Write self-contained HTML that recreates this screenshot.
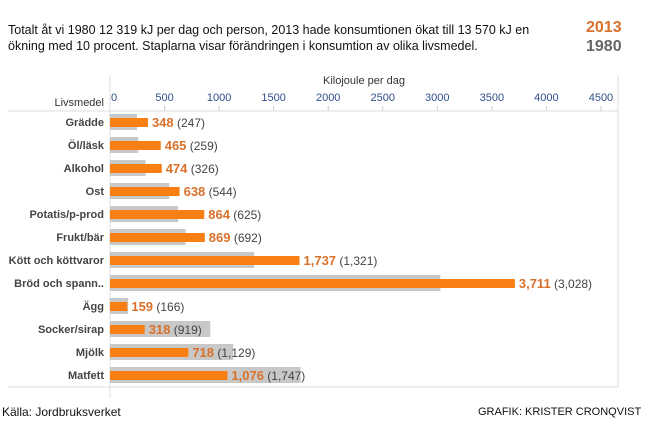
<!DOCTYPE html>
<html><head><meta charset="utf-8"><style>
body{margin:0;width:646px;height:431px;background:#fff;font-family:"Liberation Sans",Arial,sans-serif;overflow:hidden;position:relative}
.t{position:absolute;white-space:nowrap}
</style></head><body>
<div class="t" style="left:8px;top:22px;font-size:12.5px;line-height:16px;color:#111">Totalt åt vi 1980 12 319 kJ per dag och person, 2013 hade konsumtionen ökat till 13 570 kJ en<br>ökning med 10 procent. Staplarna visar förändringen i konsumtion av olika livsmedel.</div>
<div class="t" style="left:586px;top:19px;font-size:16px;font-weight:bold;color:#d9712a">2013</div>
<div class="t" style="left:586px;top:38px;font-size:16px;font-weight:bold;color:#666">1980</div>
<svg id="c" width="646" height="431" style="position:absolute;left:0;top:0"></svg>
<div class="t" style="left:2px;top:405px;font-size:12px;color:#111">Källa: Jordbruksverket</div>
<div class="t" style="left:478px;top:406px;font-size:11px;color:#111">GRAFIK: KRISTER CRONQVIST</div>
<script>
const categories=["Grädde","Öl/läsk","Alkohol","Ost","Potatis/p-prod","Frukt/bär","Kött och köttvaror","Bröd och spann..","Ägg","Socker/sirap","Mjölk","Matfett"];
const values2013=[348,465,474,638,864,869,1737,3711,159,318,718,1076];
const values1980=[247,259,326,544,625,692,1321,3028,166,919,1129,1747];
const ticks=[0,500,1000,1500,2000,2500,3000,3500,4000,4500];
const NS="http://www.w3.org/2000/svg",svg=document.getElementById('c');
const x0=110,k=0.1091,y0=122,step=23;
const X=v=>x0+v*k, Y=i=>y0+i*step;
function el(t,a){const e=document.createElementNS(NS,t);for(const n in a)e.setAttribute(n,a[n]);svg.appendChild(e);return e;}
function fmt(v){return v.toLocaleString('en-US');}
let l=el('line',{x1:8,x2:618,y1:111,y2:111,stroke:'#ddd'});

l=el('line',{x1:8,x2:618,y1:387,y2:387,stroke:'#ddd'});

l=el('line',{x1:110,x2:110,y1:75,y2:398,stroke:'#ddd'});

l=el('line',{x1:618,x2:618,y1:75,y2:387,stroke:'#ddd'});

let t=el('text',{x:364,y:84,'font-size':11,fill:'#333','text-anchor':'middle'});t.textContent='Kilojoule per dag';

t=el('text',{x:104,y:106,'font-size':11,fill:'#333','text-anchor':'end'});t.textContent='Livsmedel';

ticks.forEach(v=>{
 const tx=el('text',{x:v==0?X(v)+1:X(v),y:101,'font-size':11,fill:'#2d4f8a','text-anchor':v==0?'start':'middle'});tx.textContent=v;
 
 if(v>0){const tk=el('line',{x1:X(v),x2:X(v),y1:106,y2:111,stroke:'#ccc'});
 }
});
categories.forEach((c,i)=>{
 const y=Y(i);
 const lb=el('text',{x:104,y:y+4,'font-size':11,'font-weight':'bold',fill:'#444','text-anchor':'end'});lb.textContent=c;
 
 const g=el('rect',{x:X(0),y:y-8,width:values1980[i]*k,height:16,fill:'#c8c8c8'});
 
 const o=el('rect',{x:X(0),y:y-4,width:values2013[i]*k,height:9,fill:'#fa7f12'});
 
 const vt=el('text',{x:X(values2013[i])+4,y:y+5,'font-size':13});
 
 const a=document.createElementNS(NS,'tspan');a.setAttribute('font-weight','bold');a.setAttribute('fill','#d9712a');a.textContent=fmt(values2013[i]);vt.appendChild(a);
 const b=document.createElementNS(NS,'tspan');b.setAttribute('fill','#444');b.setAttribute('font-size','12');b.textContent=' ('+fmt(values1980[i])+')';vt.appendChild(b);
});
</script>
</body></html>
